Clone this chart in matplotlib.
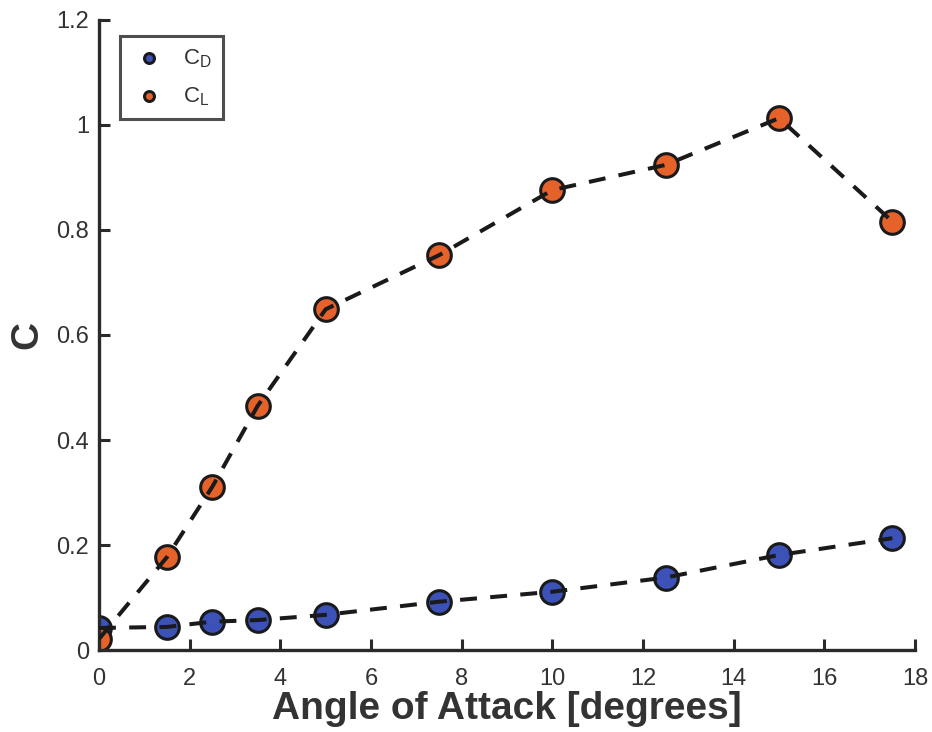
import numpy as np
import matplotlib.pyplot as plt

plt.rcParams['font.family'] = ['Liberation Sans', 'DejaVu Sans']

alpha = [0, 1.5, 2.5, 3.5, 5, 7.5, 10, 12.5, 15, 17.5]
cd = [0.042, 0.044, 0.054, 0.057, 0.067, 0.092, 0.111, 0.138, 0.181, 0.213]
cl = [0.021, 0.177, 0.311, 0.465, 0.649, 0.752, 0.876, 0.924, 1.013, 0.816]

fig = plt.figure(figsize=(9.32, 7.32), dpi=100)
ax = fig.add_axes([0.1062, 0.112, 0.8756, 0.8607])

ax.scatter(alpha, cd, s=290, c='#3d52b8', edgecolors='#1a1a1a', linewidths=2.2,
           zorder=2, label='$\\mathregular{C_D}$')
ax.scatter(alpha, cl, s=290, c='#e5622b', edgecolors='#1a1a1a', linewidths=2.2,
           zorder=2, label='$\\mathregular{C_L}$')
ax.plot(alpha, cd, '--', color='#1a1a1a', lw=2.9, dashes=(4.2, 3.3), zorder=3)
ax.plot(alpha, cl, '--', color='#1a1a1a', lw=2.9, dashes=(4.2, 3.3), zorder=3)

ax.set_xlim(0, 18)
ax.set_ylim(0, 1.2)
ax.set_xticks(np.arange(0, 19, 2))
ax.set_yticks([0, 0.2, 0.4, 0.6, 0.8, 1, 1.2])
ax.set_yticklabels(['0', '0.2', '0.4', '0.6', '0.8', '1', '1.2'])
ax.tick_params(direction='in', length=8, width=2.2, colors='#2a2a2a',
               labelsize=17, labelcolor='#333333')
ax.tick_params(axis='x', pad=13)
ax.tick_params(axis='y', pad=7)
for s in ['top', 'right']:
    ax.spines[s].set_visible(False)
for s in ['left', 'bottom']:
    ax.spines[s].set_linewidth(2.4)
    ax.spines[s].set_color('#2a2a2a')

ax.set_xlabel('Angle of Attack [degrees]', fontsize=28, fontweight='bold',
              color='#333333', labelpad=1)
ax.set_ylabel('C', fontsize=28, fontweight='bold', color='#333333', labelpad=8)

leg = ax.legend(loc='upper left', bbox_to_anchor=(0.0257, 0.9746), fontsize=16,
                markerscale=0.42, frameon=True, fancybox=False, handletextpad=0.75,
                borderpad=0.5, labelspacing=0.7, handlelength=1.6,
                borderaxespad=0)
leg.get_frame().set_edgecolor('#222222')
leg.get_frame().set_linewidth(2.2)
for t in leg.get_texts():
    t.set_color('#333333')

fig.savefig('out.png', dpi=100)
